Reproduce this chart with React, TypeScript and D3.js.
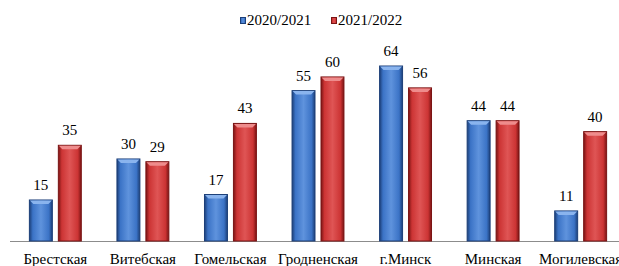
import React, { useRef, useEffect } from 'react'
import * as d3 from 'd3'

const regions = ['Брестская', 'Витебская', 'Гомельская', 'Гродненская', 'г.Минск', 'Минская', 'Могилевская']
const seriesNames = ['2020/2021', '2021/2022']
const values2020 = [15, 30, 17, 55, 64, 44, 11]
const values2022 = [35, 29, 43, 60, 56, 44, 40]

const FONT = 'Liberation Serif, DejaVu Serif, Times New Roman, serif'

const App = () => {
  const svgRef = useRef<SVGSVGElement>(null)

  useEffect(() => {
    const width = 619
    const height = 266
    const baseline = 241

    const svg = d3.select(svgRef.current)
      .attr('width', width)
      .attr('height', height)
      .attr('viewBox', [0, 0, width, height] as any)
    svg.selectAll('*').remove()

    const colors = [
      { dark: '#1c3f78', mid: '#3b73c6', light: '#5f93dd', top: '#8ab4ee' },
      { dark: '#7a1414', mid: '#cc3434', light: '#df5555', top: '#ee8c8c' },
    ]

    const defs = svg.append('defs')
    colors.forEach((c, i) => {
      const g = defs.append('linearGradient').attr('id', 'grad' + i)
        .attr('x1', 0).attr('x2', 1).attr('y1', 0).attr('y2', 0)
      g.append('stop').attr('offset', '0%').attr('stop-color', c.dark)
      g.append('stop').attr('offset', '15%').attr('stop-color', c.mid)
      g.append('stop').attr('offset', '50%').attr('stop-color', c.light)
      g.append('stop').attr('offset', '85%').attr('stop-color', c.mid)
      g.append('stop').attr('offset', '100%').attr('stop-color', c.dark)
    })

    const x0 = d3.scaleBand().domain(regions).range([11, 625]).paddingInner(0.407).paddingOuter(0.21)
    const x1 = d3.scaleBand().domain(seriesNames).range([0, x0.bandwidth()]).paddingInner(0.207)
    const y = d3.scaleLinear().domain([0, 64]).range([baseline, 66])

    const data = regions.map((r, i) => ({ region: r, vals: [values2020[i], values2022[i]] }))

    // axis line
    svg.append('line')
      .attr('x1', 10).attr('x2', width).attr('y1', baseline + 0.5).attr('y2', baseline + 0.5)
      .attr('stroke', '#8c8c8c').attr('stroke-width', 1)

    const groups = svg.append('g').selectAll('g').data(data).join('g')
      .attr('transform', d => `translate(${x0(d.region)},0)`)

    seriesNames.forEach((s, si) => {
      const bx = x1(s)!
      const bw = x1.bandwidth()
      groups.append('rect')
        .attr('x', bx)
        .attr('y', d => y(d.vals[si]))
        .attr('width', bw)
        .attr('height', d => y(0) - y(d.vals[si]))
        .attr('fill', `url(#grad${si})`)
        .attr('stroke', colors[si].dark)
        .attr('stroke-width', 1)
      // top bevel
      groups.append('path')
        .attr('d', d => {
          const t = y(d.vals[si])
          return `M${bx + 0.5},${t + 0.5}L${bx + bw - 0.5},${t + 0.5}L${bx + bw - 4},${t + 4}L${bx + 4},${t + 4}Z`
        })
        .attr('fill', colors[si].top)
      groups.append('text')
        .attr('x', bx + bw / 2)
        .attr('y', d => y(d.vals[si]) - 10)
        .attr('text-anchor', 'middle')
        .attr('font-family', FONT)
        .attr('font-size', 15)
        .attr('fill', '#000')
        .text(d => d.vals[si])
    })

    // category labels
    svg.append('g').selectAll('text').data(regions).join('text')
      .attr('x', d => x0(d)! + x0.bandwidth() / 2)
      .attr('y', 264)
      .attr('text-anchor', 'middle')
      .attr('font-family', FONT)
      .attr('font-size', 15)
      .attr('fill', '#000')
      .text(d => d)

    // legend
    const legendX = [240, 331]
    seriesNames.forEach((s, si) => {
      const lg = svg.append('g').attr('transform', `translate(${legendX[si]},17)`)
      lg.append('rect').attr('x', 0.5).attr('y', 0.5).attr('width', 5).attr('height', 6)
        .attr('fill', `url(#grad${si})`).attr('stroke', colors[si].dark)
      lg.append('text').attr('x', 7).attr('y', 8)
        .attr('font-family', FONT)
        .attr('font-size', 15)
        .attr('fill', '#000')
        .text(s)
    })
  }, [])

  return (
    <div style={{ position: 'absolute', left: 0, top: 0 }}>
      <svg ref={svgRef} />
    </div>
  )
}

export default App
